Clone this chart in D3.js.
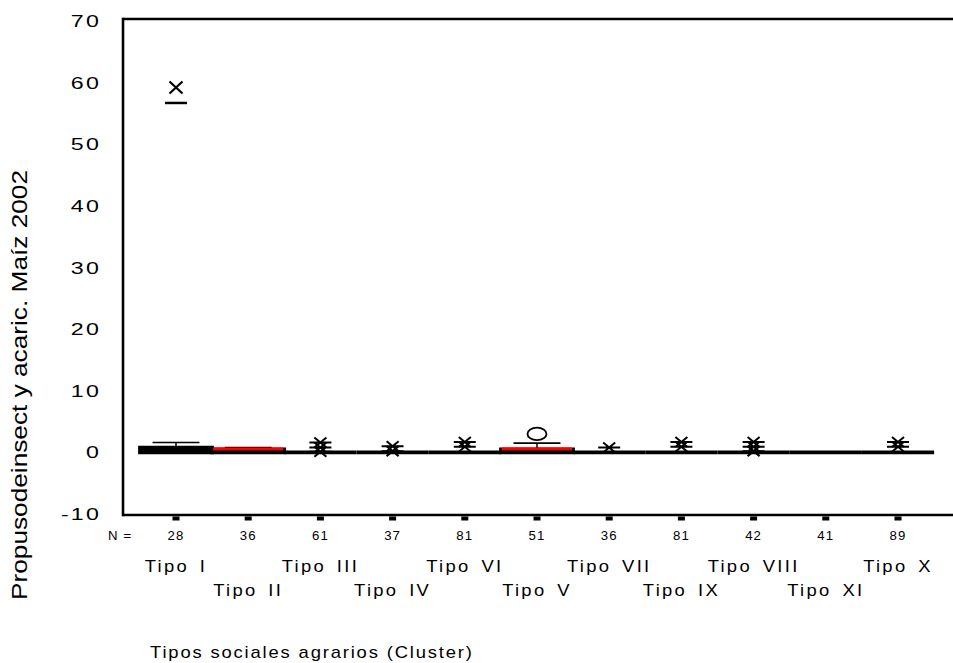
<!DOCTYPE html>
<html><head><meta charset="utf-8">
<script src="https://cdn.jsdelivr.net/npm/d3@7"></script>
<style>body{margin:0;background:#fff}svg{display:block}text{font-family:"Liberation Sans",Arial,sans-serif;fill:#000}</style>
</head><body><svg id="c" width="953" height="663"></svg>
<script>
const categories = ["Tipo I","Tipo II","Tipo III","Tipo IV","Tipo VI","Tipo V","Tipo VII","Tipo IX","Tipo VIII","Tipo XI","Tipo X"];
const nCounts = [28,36,61,37,81,51,36,81,42,41,89];
const q1Values = [0,0,0,0,0,0,0,0,0,0,0];
const medianValues = [0,0.5,0,0,0,0.5,0,0,0,0,0];
const q3Values = [0.8,0.5,0,0,0,0.5,0,0,0,0,0];
const whiskerHigh = [1.6,0.8,0,0,0,1.5,0,0,0,0,0];
const extremeValues = [[],[],[1.6,0.8,0.1],[1.0,0.2],[1.7,0.9],[],[0.8],[1.7,0.9],[1.7,0.9,0.2],[],[1.7,0.9]];
const outlierValues = [[],[],[],[],[],[3.0],[],[],[],[],[]];
const farCross = [{cat:"Tipo I", v:59.2}];
const farDash = [{cat:"Tipo I", v:56.7}];
const yTicks = [-10,0,10,20,30,40,50,60,70];
const yLabel = "Propusodeinsect y acaric. Maíz 2002";
const xTitle = "Tipos sociales agrarios (Cluster)";

const svg = d3.select("#c");
const L = 123, R = 953, T = 19, B = 515;
const x = d3.scalePoint().domain(categories).range([176, 898]);
const step = x.step();
const y = d3.scaleLinear().domain([-10, 70]).range([B - 1, T + 2]);
const SX = 1.15, LS = 2;

function stext(px, py, str, size, anchor, sx, ls) {
  return svg.append("text").attr("transform", `translate(${px},${py}) scale(${sx||SX},1)`)
    .attr("text-anchor", anchor || "middle").attr("font-size", size)
    .attr("letter-spacing", ls == null ? LS : ls).text(str);
}

// frame
svg.append("line").attr("x1", L).attr("x2", R).attr("y1", T).attr("y2", T).attr("stroke", "#000").attr("stroke-width", 2.7);
svg.append("line").attr("x1", L).attr("x2", L).attr("y1", T - 1.3).attr("y2", B + 1.3).attr("stroke", "#000").attr("stroke-width", 2.6);
svg.append("line").attr("x1", L).attr("x2", R).attr("y1", B).attr("y2", B).attr("stroke", "#000").attr("stroke-width", 2.6);

// y tick labels via axis
const yAxis = svg.append("g").attr("transform", `translate(${L},0)`)
  .call(d3.axisLeft(y).tickValues(yTicks).tickSize(0).tickPadding(0).tickFormat(d => String(d)));
yAxis.select(".domain").remove();
yAxis.attr("font-size", null).attr("font-family", null);
yAxis.selectAll("text")
  .attr("x", null).attr("dy", null)
  .attr("transform", `translate(-22,0) scale(1.45,1)`)
  .attr("dominant-baseline", "central").attr("text-anchor", "end")
  .attr("letter-spacing", 1.5)
  .style("font-size", "16px").style("font-family", "'Liberation Sans',Arial,sans-serif");

// x ticks squares
svg.selectAll(".xt").data(categories).join("rect")
  .attr("x", d => x(d) - 3.5).attr("y", B + 1.5).attr("width", 7).attr("height", 4).attr("fill", "#000");

// N labels
stext(108, 540, "N =", 12, "start", 1.1, 1);
nCounts.forEach((n, i) => stext(x(categories[i]), 540, String(n), 12, "middle", 1.1, 1));

// category labels, alternating rows
categories.forEach((c, i) => stext(x(c), i % 2 === 0 ? 572 : 596, c, 16, "middle").attr("word-spacing", 3));

// x title
stext(150, 658, xTitle, 16, "start", 1.15, 1.6);

// y label
svg.append("text").attr("transform", "translate(27,385) rotate(-90)")
  .attr("text-anchor", "middle").attr("font-size", 22)
  .attr("textLength", 430).attr("lengthAdjust", "spacingAndGlyphs").text(yLabel);

const bw = step, cw = step * 0.65;
// whiskers & caps
categories.forEach((c, i) => {
  const cx = x(c);
  if (whiskerHigh[i] > q3Values[i]) {
    svg.append("line").attr("x1", cx).attr("x2", cx).attr("y1", y(q3Values[i])).attr("y2", y(whiskerHigh[i])).attr("stroke", "#000").attr("stroke-width", 1.5);
    svg.append("line").attr("x1", cx - cw/2).attr("x2", cx + cw/2).attr("y1", y(whiskerHigh[i])).attr("y2", y(whiskerHigh[i])).attr("stroke", "#000").attr("stroke-width", 1.6);
  }
});
// boxes
categories.forEach((c, i) => {
  const cx = x(c), x0 = cx - bw/2, x1 = cx + bw/2;
  svg.append("path").attr("d", `M${x0},${y(q1Values[i])}H${x1}V${y(q3Values[i])}H${x0}Z`)
    .attr("fill", "#000").attr("stroke", "#000").attr("stroke-width", 3.6);
});
// medians
categories.forEach((c, i) => {
  const cx = x(c);
  if (medianValues[i] > q1Values[i]) {
    svg.append("line").attr("x1", cx - bw/2 + 1).attr("x2", cx + bw/2 - 1).attr("y1", y(medianValues[i]) - 0.4).attr("y2", y(medianValues[i]) - 0.4)
      .attr("stroke", "#f00").attr("stroke-width", 3);
  }
});
// extremes (asterisks)
function asterisk(cx, cy) {
  svg.append("path").attr("d", `M${cx-6},${cy-5}L${cx+6},${cy+5}M${cx-6},${cy+5}L${cx+6},${cy-5}M${cx-11},${cy}H${cx+11}`)
    .attr("fill", "none").attr("stroke", "#000").attr("stroke-width", 2);
}
categories.forEach((c, i) => extremeValues[i].forEach(v => asterisk(x(c), y(v))));
// outliers (circles)
categories.forEach((c, i) => outlierValues[i].forEach(v => {
  svg.append("ellipse").attr("cx", x(c)).attr("cy", y(v)).attr("rx", 9.5).attr("ry", 6.3)
    .attr("fill", "none").attr("stroke", "#000").attr("stroke-width", 1.8);
}));
farCross.forEach(d => {
  const cx = x(d.cat), cy = y(d.v);
  svg.append("path").attr("d", `M${cx-6.5},${cy-6}L${cx+6.5},${cy+6}M${cx-6.5},${cy+6}L${cx+6.5},${cy-6}`)
    .attr("stroke", "#000").attr("stroke-width", 2.2);
});
farDash.forEach(d => {
  svg.append("line").attr("x1", x(d.cat) - 11).attr("x2", x(d.cat) + 11).attr("y1", y(d.v)).attr("y2", y(d.v))
    .attr("stroke", "#000").attr("stroke-width", 2.5);
});
</script></body></html>
